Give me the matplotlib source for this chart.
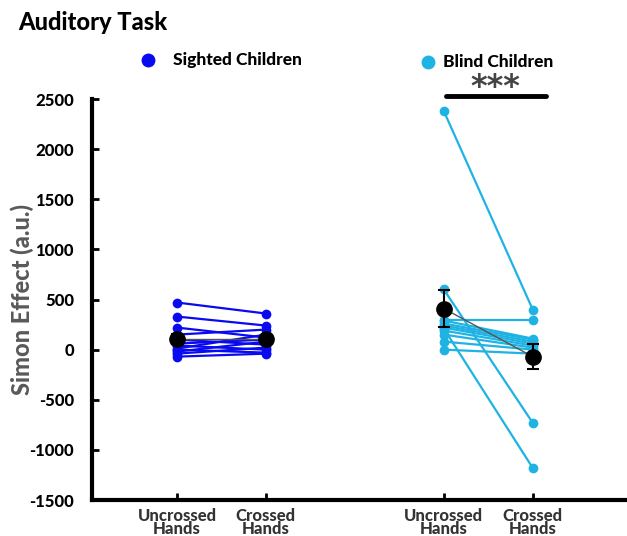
import numpy as np
import matplotlib
matplotlib.use("Agg")
import matplotlib.pyplot as plt

plt.rcParams['font.family'] = ['Lato', 'DejaVu Sans']

# ---- data ----
conditions = ["Uncrossed\nHands", "Crossed\nHands", "Uncrossed\nHands", "Crossed\nHands"]
sighted_uncrossed = [470, 330, 220, 150, 100, 60, 40, 10, 0, -20, -40, -70]
sighted_crossed   = [360, 240, 120, 200, 50, 100, 0, 150, -30, 80, 20, -40]
blind_uncrossed = [2380, 600, 210, 300, 290, 260, 240, 220, 190, 150, 80, 0]
blind_crossed   = [400, -730, -1180, 300, 110, 100, 80, 60, 40, 20, 0, -40]
group_names = ["Sighted Children", "Blind Children"]
y_ticks = [-1500, -1000, -500, 0, 500, 1000, 1500, 2000, 2500]

# ---- style ----
c_sighted = "#0a0af0"
c_blind = "#1fb3e4"
pos = [1, 2, 4, 5]

fig = plt.figure(figsize=(6.27, 5.36), dpi=100)
ax = fig.add_axes([92/627, 1-500/536, 1-92/627, 401/536])

groups = [(sighted_uncrossed, sighted_crossed, c_sighted, pos[0:2]),
          (blind_uncrossed, blind_crossed, c_blind, pos[2:4])]
for u, c, col, xs in groups:
    for a, b in zip(u, c):
        ax.plot(xs, [a, b], '-', color=col, lw=1.6, zorder=2)
        ax.plot(xs, [a, b], 'o', color=col, ms=7, mec='none', zorder=3)
    mu = [np.mean(u), np.mean(c)]
    se = [np.std(u, ddof=1)/np.sqrt(len(u)), np.std(c, ddof=1)/np.sqrt(len(c))]
    ax.plot(xs, mu, '-', color='#555555', lw=1.0, zorder=4)
    ax.errorbar(xs, mu, yerr=se, fmt='o', color='black', ms=11, ecolor='black',
                elinewidth=1.5, capsize=4, capthick=1.5, zorder=5)

ax.set_xlim(0.045, 6.06)
ax.set_ylim(-1500, 2500)
ax.set_yticks(y_ticks)
ax.set_yticklabels([str(t) for t in y_ticks], fontsize=12, fontweight='black')
ax.set_xticks(pos)
ax.set_xticklabels(conditions, fontsize=12, fontweight='black', color='#333333',
                   linespacing=0.72)
ax.tick_params(axis='both', direction='in', length=5, width=2)
ax.tick_params(axis='y', pad=13)
ax.tick_params(axis='x', pad=6)
for s in ['top', 'right']:
    ax.spines[s].set_visible(False)
for s in ['left', 'bottom']:
    ax.spines[s].set_linewidth(3)
ax.set_ylabel("Simon Effect (a.u.)", fontsize=17, fontweight='black', color='#595959')
ax.yaxis.set_label_coords(-0.108, 0.5)
ax.patch.set_visible(False)

# significance bar
ax.plot([pos[2] + 0.02, pos[3] + 0.15], [2530, 2530], color='black', lw=3.5,
        solid_capstyle='round', clip_on=False)
ax.text((pos[2] + pos[3] + 0.17)/2, 2615, "***", ha='center', va='center', fontsize=23,
        fontweight='bold', color='#444444', clip_on=False, fontfamily='DejaVu Sans')

# legend-like labels
fig.text(18/627, 1-22/536, "Auditory Task", fontsize=17, fontweight='black', va='center')
fig.lines.append(plt.Line2D([148/627], [1-60/536], marker='o', ms=10, color=c_sighted,
                            mec='none', transform=fig.transFigure))
fig.text(173/627, 1-60/536, group_names[0], fontsize=12.5, fontweight='black', va='center')
fig.lines.append(plt.Line2D([428/627], [1-62/536], marker='o', ms=10, color=c_blind,
                            mec='none', transform=fig.transFigure))
fig.text(443/627, 1-62/536, group_names[1], fontsize=12.5, fontweight='black', va='center')

fig.savefig("out.png", dpi=100)
